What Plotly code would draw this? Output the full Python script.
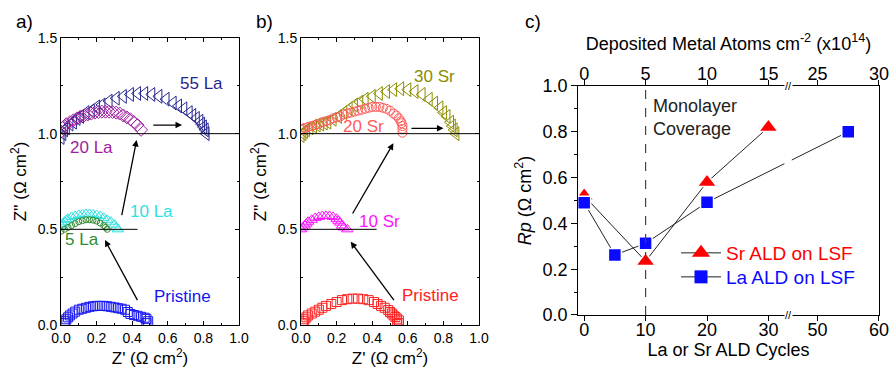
import plotly.graph_objects as go

FONT = "Liberation Sans, Arial, sans-serif"

# ---------------- Panel a: La ALD (Z' , raw Z'' ; plotted with vertical offset) ----------------
a_pristine_x = [0.02,0.025,0.03,0.04,0.05,0.065,0.08,0.10,0.12,0.14,0.16,0.18,0.20,0.22,0.24,0.26,0.28,0.30,0.32,0.34,0.36,0.375,0.39,0.41,0.43,0.45,0.47,0.48,0.49,0.48]
a_pristine_y = [0.01,0.02,0.03,0.04,0.05,0.06,0.07,0.08,0.085,0.09,0.095,0.098,0.10,0.10,0.10,0.098,0.095,0.092,0.088,0.085,0.08,0.068,0.058,0.052,0.048,0.043,0.038,0.032,0.02,0.01]
a_5la_x = [0.0,0.02,0.04,0.06,0.08,0.10,0.12,0.14,0.16,0.18,0.20,0.22,0.24,0.25,0.26]
a_5la_y = [-0.01,0.0,0.01,0.02,0.03,0.04,0.045,0.05,0.05,0.048,0.043,0.033,0.02,0.01,0.0]
a_10la_x = [0.0,0.01,0.02,0.03,0.04,0.06,0.08,0.10,0.12,0.14,0.16,0.18,0.20,0.22,0.24,0.26,0.28,0.30,0.31,0.32]
a_10la_y = [0.02,0.03,0.04,0.05,0.055,0.065,0.07,0.075,0.078,0.08,0.08,0.078,0.075,0.07,0.06,0.05,0.04,0.025,0.01,0.0]
a_20la_x = [0.0,0.01,0.02,0.03,0.05,0.07,0.09,0.11,0.13,0.15,0.17,0.19,0.21,0.23,0.25,0.27,0.29,0.31,0.33,0.35,0.37,0.39,0.41,0.43,0.45]
a_20la_y = [0.01,0.03,0.04,0.05,0.06,0.07,0.08,0.09,0.095,0.10,0.105,0.11,0.113,0.115,0.115,0.115,0.113,0.11,0.105,0.095,0.085,0.075,0.06,0.045,0.02]
a_55la_x = [0.00,0.01,0.02,0.03,0.05,0.07,0.09,0.11,0.14,0.17,0.20,0.23,0.27,0.31,0.35,0.39,0.43,0.47,0.51,0.55,0.59,0.63,0.66,0.69,0.72,0.74,0.76,0.78,0.79,0.80,0.81,0.815]
a_55la_y = [-0.02,0.0,0.02,0.03,0.05,0.06,0.08,0.09,0.11,0.12,0.14,0.15,0.17,0.185,0.195,0.205,0.21,0.21,0.205,0.195,0.18,0.16,0.145,0.13,0.11,0.095,0.08,0.065,0.05,0.035,0.02,0.0]

# ---------------- Panel b: Sr ALD ----------------
b_pristine_x = [0.01,0.015,0.02,0.03,0.04,0.06,0.08,0.10,0.12,0.14,0.17,0.20,0.23,0.26,0.29,0.32,0.35,0.38,0.41,0.43,0.45,0.47,0.49,0.50,0.51,0.52,0.53,0.54,0.55,0.55,0.54]
b_pristine_y = [0.01,0.02,0.03,0.04,0.05,0.06,0.07,0.08,0.09,0.10,0.11,0.12,0.13,0.135,0.138,0.138,0.135,0.13,0.12,0.11,0.10,0.09,0.078,0.068,0.06,0.05,0.042,0.033,0.024,0.01,0.005]
b_10sr_x = [0.0,0.01,0.02,0.03,0.04,0.06,0.08,0.10,0.12,0.14,0.16,0.18,0.20,0.21,0.22,0.23,0.24,0.26]
b_10sr_y = [0.0,0.01,0.02,0.03,0.04,0.05,0.06,0.065,0.07,0.07,0.07,0.065,0.055,0.045,0.035,0.02,0.01,0.0]
b_20sr_x = [0.0,0.01,0.02,0.04,0.06,0.08,0.10,0.12,0.14,0.16,0.18,0.20,0.22,0.24,0.26,0.28,0.30,0.32,0.34,0.36,0.38,0.40,0.42,0.44,0.46,0.48,0.50,0.52,0.535,0.55,0.56,0.565,0.57,0.57,0.57]
b_20sr_y = [0.02,0.025,0.03,0.035,0.04,0.045,0.05,0.06,0.065,0.07,0.08,0.085,0.09,0.10,0.105,0.11,0.115,0.12,0.125,0.13,0.135,0.14,0.14,0.14,0.135,0.13,0.12,0.105,0.095,0.08,0.065,0.055,0.04,0.025,0.005]
b_30sr_x = [0.0,0.01,0.02,0.03,0.05,0.07,0.09,0.11,0.13,0.15,0.18,0.21,0.24,0.27,0.30,0.33,0.36,0.40,0.44,0.48,0.52,0.56,0.60,0.64,0.68,0.72,0.75,0.78,0.80,0.82,0.84,0.85,0.86,0.87]
b_30sr_y = [-0.01,0.0,0.01,0.02,0.03,0.04,0.045,0.05,0.055,0.06,0.075,0.09,0.11,0.13,0.15,0.165,0.18,0.195,0.21,0.22,0.23,0.235,0.23,0.22,0.205,0.18,0.16,0.135,0.11,0.09,0.06,0.04,0.02,0.0]

OFFSET_0 = 0.0
OFFSET_1 = 0.5
OFFSET_2 = 1.0

# ---------------- Panel c: Rp vs ALD cycles ----------------
sr_cycles = [0, 10, 20, 30]
sr_rp = [0.52, 0.235, 0.58, 0.82]
la_cycles = [0, 5, 10, 20, 55]
la_rp = [0.49, 0.262, 0.313, 0.492, 0.80]
bottom_ticks = [0, 10, 20, 30, 50, 60]
top_ticks_atoms = [0, 5, 10, 15, 25, 30]   # x10^14 atoms cm^-2 ; cycles = 2 * atoms
MONOLAYER_CYCLES = 10

# broken axis: cycles 33.2..45.2 are cut out
BREAK_AT = 33.2
BREAK_SHIFT = 12.0
GAP = 0.6

def brk(v):
    return v if v <= BREAK_AT else v - BREAK_SHIFT

def broken_line(xs, ys):
    """Convert to broken-axis coordinates, splitting segments crossing the break."""
    ox, oy = [], []
    for i in range(len(xs)):
        if i > 0 and xs[i - 1] <= BREAK_AT < xs[i]:
            x0, x1 = brk(xs[i - 1]), brk(xs[i])
            y0, y1 = ys[i - 1], ys[i]
            for xe in (BREAK_AT - GAP, None, BREAK_AT + GAP):
                if xe is None:
                    ox.append(None); oy.append(None)
                else:
                    ox.append(xe); oy.append(y0 + (y1 - y0) * (xe - x0) / (x1 - x0))
        ox.append(brk(xs[i])); oy.append(ys[i])
    return ox, oy

RED = "#ff0000"
BLUE = "#0a0aff"

fig = go.Figure()

def nyq(x, y, off, sym, size, color, xa, ya):
    fig.add_trace(go.Scatter(
        x=x, y=[v + off for v in y], mode="markers", xaxis=xa, yaxis=ya,
        marker=dict(symbol=sym, size=size, color=color, line=dict(width=1, color=color)),
        showlegend=False, hoverinfo="skip"))

# panel a
nyq(a_pristine_x, a_pristine_y, OFFSET_0, "square-open", 9, "#1515f0", "x", "y")
nyq(a_10la_x, a_10la_y, OFFSET_1, "triangle-up-open", 10, "#2fe0e0", "x", "y")
nyq(a_5la_x, a_5la_y, OFFSET_1, "circle-open", 6, "#2e8b2e", "x", "y")
nyq(a_55la_x, a_55la_y, OFFSET_2, "triangle-left-open", 12, "#26268f", "x", "y")
nyq(a_20la_x, a_20la_y, OFFSET_2, "diamond-open", 10, "#a020a0", "x", "y")
# panel b
nyq(b_pristine_x, b_pristine_y, OFFSET_0, "square-open", 9, "#ff2020", "x2", "y2")
nyq(b_10sr_x, b_10sr_y, OFFSET_1, "triangle-up-open", 10, "#ff10ff", "x2", "y2")
nyq(b_30sr_x, b_30sr_y, OFFSET_2, "triangle-left-open", 12, "#8c8c00", "x2", "y2")
nyq(b_20sr_x, b_20sr_y, OFFSET_2, "circle-open", 9, "#ff5a5a", "x2", "y2")

# panel c
for cyc, rp in [(sr_cycles, sr_rp), (la_cycles, la_rp)]:
    lx, ly = broken_line(cyc, rp)
    fig.add_trace(go.Scatter(x=lx, y=ly, mode="lines", xaxis="x3", yaxis="y3",
                             line=dict(color="#222222", width=1), showlegend=False,
                             hoverinfo="skip", connectgaps=False))
for cyc, rp, col, sym, sz in [(sr_cycles, sr_rp, RED, "triangle-up", 17),
                              (la_cycles, la_rp, BLUE, "square", 13)]:
    fig.add_trace(go.Scatter(x=[brk(c) for c in cyc], y=rp, mode="markers", xaxis="x3", yaxis="y3",
                             marker=dict(symbol=sym, size=sz, color=col,
                                         line=dict(width=1.5, color="white")),
                             showlegend=False))
# top axis carrier (atoms scale), invisible
fig.add_trace(go.Scatter(x=[brk(2 * v) for v in top_ticks_atoms], y=[None] * len(top_ticks_atoms),
                         mode="markers", xaxis="x4", yaxis="y3", showlegend=False, hoverinfo="skip"))
fig.add_trace(go.Scatter(x=[None], y=[None], mode="lines+markers", xaxis="x3", yaxis="y3",
                         name='<span style="color:#ff0000">Sr ALD on LSF</span>', legend="legend",
                         line=dict(color="#222222", width=1),
                         marker=dict(symbol="triangle-up", size=17, color=RED)))
fig.add_trace(go.Scatter(x=[None], y=[None], mode="lines+markers", xaxis="x3", yaxis="y3",
                         name='<span style="color:#0a0aff">La ALD on LSF</span>', legend="legend2",
                         line=dict(color="#222222", width=1),
                         marker=dict(symbol="square", size=13, color=BLUE)))

# ---------------- axes ----------------
ab_y = [0.1333, 0.8987]
def ab_x_axis(domain, anchor):
    return dict(domain=domain, anchor=anchor, range=[0, 1.0], tickvals=[0, 0.2, 0.4, 0.6, 0.8, 1.0],
                tickformat=".1f", ticks="inside", ticklen=4, tickcolor="black",
                minor=dict(dtick=0.1, ticks="inside", ticklen=2, tickcolor="black"),
                showline=True, linecolor="black", linewidth=1, mirror="ticks",
                showgrid=False, zeroline=False, automargin=False,
                tickfont=dict(size=14, color="black", family=FONT),
                title=dict(text="Z' (Ω cm<sup>2</sup>)", font=dict(size=17, color="black", family=FONT), standoff=4))
def ab_y_axis(anchor):
    return dict(domain=ab_y, anchor=anchor, range=[0, 1.5], tickvals=[0, 0.5, 1.0, 1.5],
                tickformat=".1f", ticks="inside", ticklen=4, tickcolor="black",
                minor=dict(dtick=0.25, ticks="inside", ticklen=2, tickcolor="black"),
                showline=True, linecolor="black", linewidth=1, mirror="ticks",
                showgrid=False, zeroline=False, automargin=False,
                tickfont=dict(size=14, color="black", family=FONT),
                title=dict(text="Z'' (Ω cm<sup>2</sup>)", font=dict(size=17, color="black", family=FONT), standoff=6))

c_range = [-1, 48]
leg_common = dict(xanchor="left", yanchor="middle", bgcolor="rgba(0,0,0,0)",
                  font=dict(size=19, family=FONT), itemwidth=40)
fig.update_layout(
    width=893, height=375, margin=dict(l=0, r=0, t=0, b=0),
    paper_bgcolor="white", plot_bgcolor="white",
    font=dict(family=FONT, color="black"),
    xaxis=ab_x_axis([0.0683, 0.2676], "y"),
    yaxis=ab_y_axis("x"),
    xaxis2=ab_x_axis([0.3371, 0.5364], "y2"),
    yaxis2=ab_y_axis("x2"),
    xaxis3=dict(domain=[0.6473, 0.9843], anchor="y3", range=c_range,
                tickvals=[brk(v) for v in bottom_ticks], ticktext=[str(v) for v in bottom_ticks],
                ticks="outside", ticklen=5, tickcolor="black", automargin=False, ticklabelstandoff=-7,
                showline=True, linecolor="black", linewidth=1, showgrid=False, zeroline=False,
                tickfont=dict(size=18, color="black", family=FONT),
                title=dict(text="La or Sr ALD Cycles", font=dict(size=18, color="black", family=FONT), standoff=2)),
    xaxis4=dict(overlaying="x3", side="top", anchor="y3", range=c_range, automargin=False,
                tickvals=[brk(2 * v) for v in top_ticks_atoms], ticktext=[str(v) for v in top_ticks_atoms],
                ticks="outside", ticklen=5, tickcolor="black", ticklabelstandoff=-7,
                showline=True, linecolor="black", linewidth=1, showgrid=False, zeroline=False,
                tickfont=dict(size=18, color="black", family=FONT),
                title=dict(text="Deposited Metal Atoms cm<sup>-2</sup> (x10<sup>14</sup>)",
                           font=dict(size=18, color="black", family=FONT), standoff=8)),
    yaxis3=dict(domain=[0.16, 0.7707], anchor="x3", range=[0, 1.0], automargin=False,
                tickvals=[0, 0.2, 0.4, 0.6, 0.8, 1.0], tickformat=".1f",
                ticks="outside", ticklen=6, tickcolor="black",
                minor=dict(dtick=0.1, ticks="outside", ticklen=3, tickcolor="black"),
                showline=True, linecolor="black", linewidth=1, mirror=True,
                showgrid=False, zeroline=False,
                tickfont=dict(size=18, color="black", family=FONT),
                title=dict(text="<i>Rp</i> (Ω cm<sup>2</sup>)", font=dict(size=18, color="black", family=FONT), standoff=6)),
    legend=dict(x=0.757, y=1 - 253 / 375, **leg_common),
    legend2=dict(x=0.757, y=1 - 277 / 375, **leg_common),
)

# reference lines in a and b
for xr, yr, ymid_end in [("x", "y", 0.43), ("x2", "y2", 0.425)]:
    fig.add_shape(type="line", xref=xr, yref=yr, x0=0, x1=1.0, y0=OFFSET_2, y1=OFFSET_2,
                  line=dict(color="black", width=1))
    fig.add_shape(type="line", xref=xr, yref=yr, x0=0, x1=ymid_end, y0=OFFSET_1, y1=OFFSET_1,
                  line=dict(color="black", width=1))

fig.add_shape(type="line", xref="x3", yref="y3", x0=brk(MONOLAYER_CYCLES), x1=brk(MONOLAYER_CYCLES),
              y0=0, y1=1.0, line=dict(color="#444444", width=1.2, dash="dash"))

ann = []
def label(text, x, y, color, xr, yr, size=17):
    ann.append(dict(text=text, x=x, y=y, xref=xr, yref=yr, showarrow=False,
                    font=dict(size=size, color=color, family=FONT)))

label("55 La", 0.79, 1.26, "#26268f", "x", "y")
label("20 La", 0.17, 0.93, "#a020a0", "x", "y")
label("10 La", 0.51, 0.595, "#2fe0e0", "x", "y")
label("5 La", 0.12, 0.445, "#2e8b2e", "x", "y")
label("Pristine", 0.68, 0.15, "#1515f0", "x", "y")
label("30 Sr", 0.75, 1.30, "#8c8c00", "x2", "y2")
label("20 Sr", 0.35, 1.04, "#ff5a5a", "x2", "y2")
label("10 Sr", 0.44, 0.54, "#ff10ff", "x2", "y2")
label("Pristine", 0.73, 0.155, "#ff2020", "x2", "y2")

def arrow(x0, y0, x1, y1, xr, yr):
    ann.append(dict(x=x1, y=y1, ax=x0, ay=y0, xref=xr, yref=yr, axref=xr, ayref=yr,
                    showarrow=True, arrowhead=2, arrowsize=1, arrowwidth=1.3, arrowcolor="black", text=""))

arrow(0.51, 1.045, 0.68, 1.045, "x", "y")
arrow(0.34, 0.566, 0.425, 0.967, "x", "y")
arrow(0.434, 0.122, 0.247, 0.444, "x", "y")
arrow(0.612, 1.028, 0.80, 1.028, "x2", "y2")
arrow(0.285, 0.575, 0.519, 0.95, "x2", "y2")
arrow(0.528, 0.122, 0.279, 0.435, "x2", "y2")

# panel c text
ann.append(dict(text="Monolayer<br>Coverage", x=0.7285, y=0.686, xref="paper", yref="paper",
                xanchor="left", yanchor="middle", align="left", showarrow=False,
                font=dict(size=18, color="#222222", family=FONT)))
# break marks
for yb in (0.16, 0.7707):
    ann.append(dict(text="//", x=BREAK_AT, y=yb, xref="x3", yref="paper", showarrow=False,
                    xanchor="center", yanchor="middle",
                    font=dict(size=11, color="black", family=FONT), bgcolor="white", borderpad=0))

# panel letters
for t, xp in [("a)", 0.027), ("b)", 0.296), ("c)", 0.597)]:
    ann.append(dict(text=t, x=xp, y=0.943, xref="paper", yref="paper", showarrow=False,
                    xanchor="center", yanchor="middle",
                    font=dict(size=19, color="black", family=FONT)))

fig.update_layout(annotations=ann)
fig.write_html("out.html")
